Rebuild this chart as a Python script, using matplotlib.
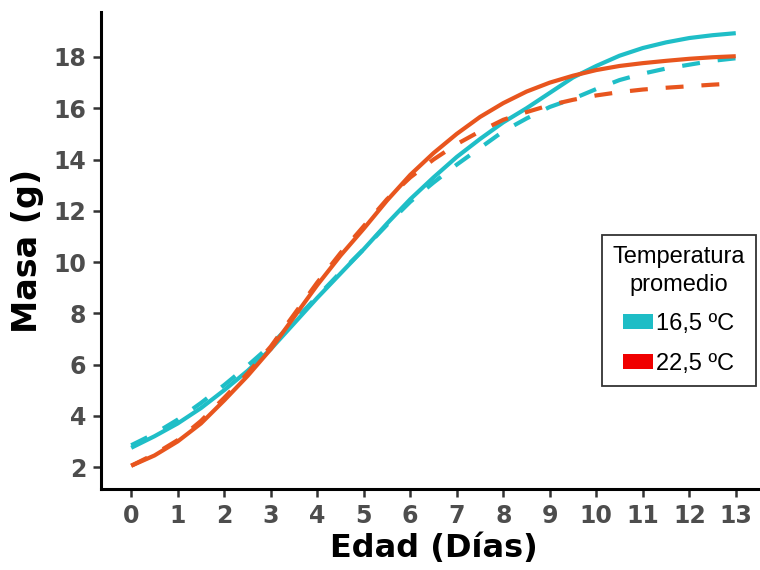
import matplotlib
matplotlib.use("Agg")
import matplotlib.pyplot as plt
from matplotlib.patches import Patch

# edad en dias (cada medio dia)
dias = [0, 0.5, 1, 1.5, 2, 2.5, 3, 3.5, 4, 4.5, 5, 5.5, 6, 6.5,
        7, 7.5, 8, 8.5, 9, 9.5, 10, 10.5, 11, 11.5, 12, 12.5, 13]
x_ticks = list(range(14))

# curvas 16,5 ºC (continua y discontinua)
masa_165_cont = [2.75, 3.2, 3.7, 4.3, 5.0, 5.75, 6.6, 7.6, 8.6, 9.55, 10.5, 11.5, 12.45, 13.3,
                 14.1, 14.8, 15.45, 16.0, 16.6, 17.2, 17.65, 18.05, 18.35, 18.57, 18.74, 18.85, 18.93]
masa_165_disc = [2.85, 3.3, 3.85, 4.5, 5.2, 5.95, 6.75, 7.7, 8.65, 9.6, 10.5, 11.45, 12.35, 13.1,
                 13.8, 14.45, 15.1, 15.6, 16.05, 16.37, 16.75, 17.1, 17.35, 17.55, 17.7, 17.85, 17.95]

# curvas 22,5 ºC (continua y discontinua)
masa_225_cont = [2.05, 2.45, 3.0, 3.7, 4.6, 5.55, 6.6, 7.85, 9.1, 10.25, 11.3, 12.4, 13.4, 14.25,
                 15.0, 15.66, 16.2, 16.65, 17.0, 17.27, 17.49, 17.65, 17.76, 17.85, 17.93, 17.99, 18.03]
masa_225_disc = [2.05, 2.5, 3.05, 3.8, 4.7, 5.65, 6.7, 7.95, 9.2, 10.35, 11.4, 12.45, 13.3, 14.0,
                 14.6, 15.1, 15.55, 15.85, 16.12, 16.33, 16.5, 16.63, 16.73, 16.8, 16.86, 16.92, 16.97]

y_ticks = [2, 4, 6, 8, 10, 12, 14, 16, 18]
etiquetas_leyenda = ["16,5 ºC", "22,5 ºC"]

col_cian = "#1fbec7"
col_rojo = "#e8551e"
dash = (0, (4.3, 4.3))

fig = plt.figure(figsize=(7.6, 5.7), dpi=100)
ax = fig.add_axes([101 / 760, 1 - 489 / 570, 665 / 760, 477 / 570])

ax.plot(dias, masa_165_cont, color=col_cian, lw=3, solid_capstyle="butt", solid_joinstyle="round")
ax.plot(dias, masa_165_disc, color=col_cian, lw=3, linestyle=dash, dash_capstyle="butt")
ax.plot(dias, masa_225_cont, color=col_rojo, lw=3, solid_capstyle="butt", solid_joinstyle="round")
ax.plot(dias, masa_225_disc, color=col_rojo, lw=3, linestyle=dash, dash_capstyle="butt")

ax.set_xlim(-0.65, 13.65)
ax.set_ylim(1.142, 19.756)
ax.set_xticks(x_ticks)
ax.set_yticks(y_ticks)

for s in ["top", "right"]:
    ax.spines[s].set_visible(False)
for s in ["left", "bottom"]:
    ax.spines[s].set_linewidth(2.2)
    ax.spines[s].set_color("black")

ax.tick_params(length=5.5, width=1.8, color="#333333", labelcolor="#4d4d4d", labelsize=17, pad=5)
for lab in ax.get_xticklabels() + ax.get_yticklabels():
    lab.set_fontweight("bold")

ax.set_xlabel("Edad (Días)", fontsize=23, fontweight="bold", labelpad=4)
ax.set_ylabel("Masa (g)", fontsize=24, fontweight="bold", labelpad=7)

handles = [Patch(facecolor="#1ebdc6", edgecolor="none"), Patch(facecolor="#f00000", edgecolor="none")]
leg = ax.legend(handles, etiquetas_leyenda, title="Temperatura\npromedio",
                loc="upper left", bbox_to_anchor=(602 / 760, 1 - 235 / 570),
                bbox_transform=fig.transFigure, borderaxespad=0,
                prop={"family": "Liberation Sans", "size": 17},
                title_fontproperties={"family": "Liberation Sans", "size": 17},
                handlelength=1.25, handleheight=0.6, handletextpad=0.15,
                fancybox=False, framealpha=1, edgecolor="#333333",
                borderpad=0.45, labelspacing=0.75, alignment="center")
leg.get_frame().set_linewidth(1.3)
leg.get_title().set_linespacing(1.35)
leg.get_title().set_multialignment("center")

fig.savefig("out.png", dpi=100)
